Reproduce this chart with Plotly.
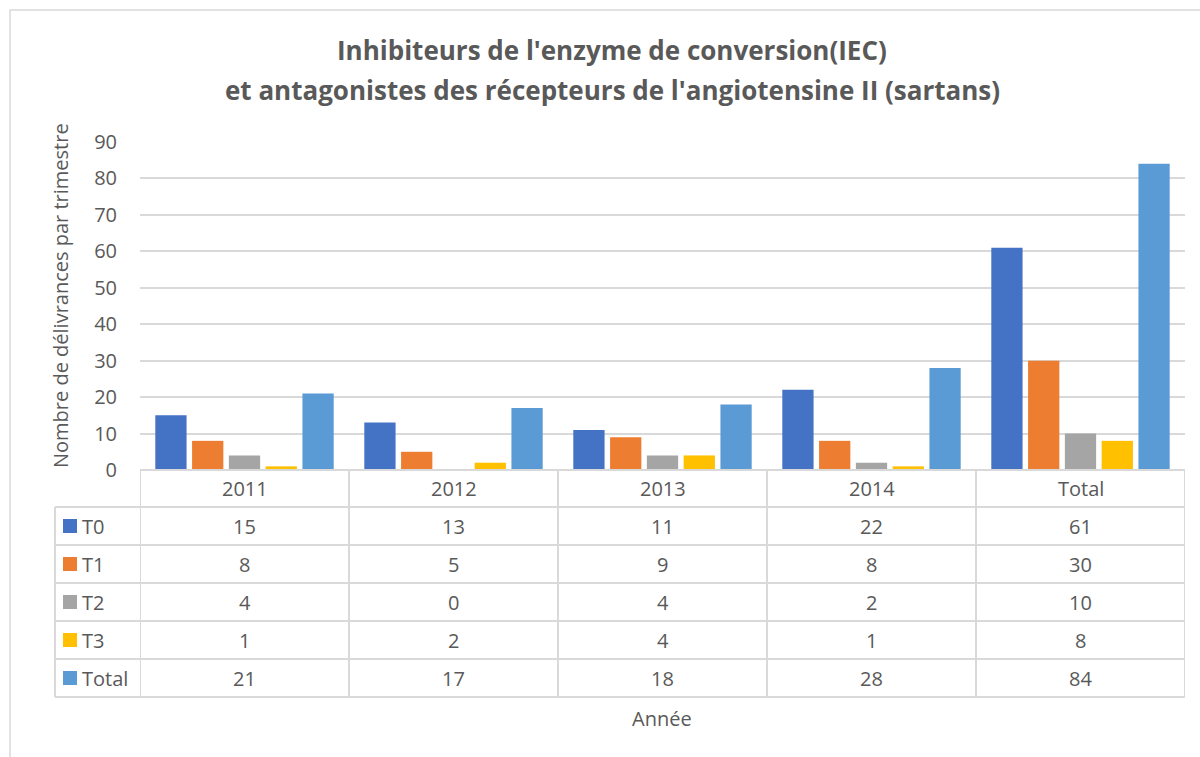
import plotly.graph_objects as go

categories = ["2011", "2012", "2013", "2014", "Total"]
series_names = ["T0", "T1", "T2", "T3", "Total"]
t0 = [15, 13, 11, 22, 61]
t1 = [8, 5, 9, 8, 30]
t2 = [4, 0, 4, 2, 10]
t3 = [1, 2, 4, 1, 8]
total = [21, 17, 18, 28, 84]
series_values = [t0, t1, t2, t3, total]
colors = ["#4472C4", "#ED7D31", "#A5A5A5", "#FFC000", "#5B9BD5"]
y_ticks = [0, 10, 20, 30, 40, 50, 60, 70, 80, 90]

title_lines = ["Inhibiteurs de l'enzyme de conversion(IEC)",
               "et antagonistes des récepteurs de l'angiotensine II (sartans)"]
y_title = "Nombre de délivrances par trimestre"
x_title = "Année"

W, H = 1200, 757
PL, PR, PT, PB = 140, 1185, 142, 470
FONT = "'Open Sans', sans-serif"
TXT = "#595959"
GRID = "#D9D9D9"
FS = 20


def px_x(p):
    return (p - PL) / (PR - PL)


def px_y(p):
    return (PB - p) / (PB - PT)


fig = go.Figure()
for name, vals, col in zip(series_names, series_values, colors):
    fig.add_trace(go.Bar(x=categories, y=vals, name=name,
                         marker=dict(color=col, line=dict(width=0)),
                         showlegend=False))

shapes = []
annotations = []

# outer chart border
shapes.append(dict(type="rect", xref="paper", yref="paper",
                   x0=px_x(10), x1=px_x(1230), y0=px_y(10), y1=px_y(800),
                   line=dict(color=GRID, width=1.5), layer="below"))

# table geometry
header_top, header_bot = 470, 507
row_h = 38
n_rows = len(series_names)
table_bot = header_bot + row_h * n_rows
left_x = 55
line_style = dict(color=GRID, width=2)

for yy in [header_top, header_bot] + [header_bot + row_h * (i + 1) for i in range(n_rows)]:
    shapes.append(dict(type="line", xref="paper", yref="paper",
                       x0=0 if yy == header_top else px_x(left_x), x1=1,
                       y0=px_y(yy), y1=px_y(yy), line=line_style))
for i in range(len(categories) + 1):
    shapes.append(dict(type="line", xref="x", yref="paper",
                       x0=i - 0.5, x1=i - 0.5, y0=px_y(header_top), y1=px_y(table_bot),
                       line=line_style))
shapes.append(dict(type="line", xref="paper", yref="paper",
                   x0=px_x(left_x), x1=px_x(left_x), y0=px_y(header_bot), y1=px_y(table_bot),
                   line=line_style))

for i, c in enumerate(categories):
    annotations.append(dict(x=i, xref="x", y=px_y((header_top + header_bot) / 2), yref="paper",
                            text=c, showarrow=False, font=dict(family=FONT, size=FS, color=TXT),
                            xanchor="center", yanchor="middle"))

for r, (name, vals, col) in enumerate(zip(series_names, series_values, colors)):
    yc = header_bot + row_h * r + row_h / 2
    shapes.append(dict(type="rect", xref="paper", yref="paper",
                       x0=px_x(63), x1=px_x(77), y0=px_y(yc - 7), y1=px_y(yc + 7),
                       fillcolor=col, line=dict(width=0)))
    annotations.append(dict(x=px_x(80), xref="paper", y=px_y(yc), yref="paper",
                            text=name, showarrow=False, font=dict(family=FONT, size=FS, color=TXT),
                            xanchor="left", yanchor="middle"))
    for i, v in enumerate(vals):
        annotations.append(dict(x=i, xref="x", y=px_y(yc), yref="paper",
                                text=str(v), showarrow=False,
                                font=dict(family=FONT, size=FS, color=TXT),
                                xanchor="center", yanchor="middle"))

annotations.append(dict(x=px_x(662), xref="paper", y=px_y(718), yref="paper", text=x_title,
                        showarrow=False, font=dict(family=FONT, size=FS, color=TXT),
                        xanchor="center", yanchor="middle"))
annotations.append(dict(x=px_x(60), xref="paper", y=px_y(296), yref="paper", text=y_title,
                        showarrow=False, textangle=-90, font=dict(family=FONT, size=FS, color=TXT),
                        xanchor="center", yanchor="middle"))
for line, yy in zip(title_lines, [50, 90]):
    annotations.append(dict(x=px_x(612), xref="paper", y=px_y(yy), yref="paper",
                            text="<b>" + line + "</b>", showarrow=False,
                            font=dict(family=FONT, size=26, color=TXT),
                            xanchor="center", yanchor="middle"))

fig.update_layout(
    width=W, height=H, autosize=False,
    margin=dict(l=PL, r=W - PR, t=PT, b=H - PB, pad=0),
    paper_bgcolor="white", plot_bgcolor="white",
    barmode="group", bargap=0.12, bargroupgap=0.15,
    shapes=shapes, annotations=annotations,
    font=dict(family=FONT, color=TXT),
)
fig.update_xaxes(type="category", range=[-0.5, len(categories) - 0.5], showticklabels=False,
                 showgrid=False, showline=False, zeroline=False, ticks="")
fig.update_yaxes(range=[0, 90], tickvals=y_ticks, showgrid=True, gridcolor=GRID, gridwidth=1.5,
                 zeroline=False, showline=False, ticks="",
                 tickfont=dict(family=FONT, size=FS, color=TXT), ticklabelstandoff=22)

fig.write_html("out.html", config={"displayModeBar": False},
               post_script="document.body.style.margin='0';")
